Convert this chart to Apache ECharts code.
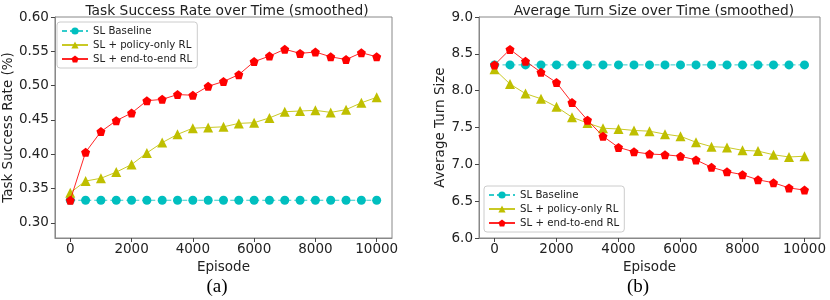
<!DOCTYPE html>
<html><head><meta charset="utf-8">
<script src="https://cdn.jsdelivr.net/npm/echarts@6/dist/echarts.min.js"></script>
<style>html,body{margin:0;padding:0;background:#fff}#c{width:830px;height:300px}</style>
</head><body><div id="c"></div>
<script>
const episodes = [0,500,1000,1500,2000,2500,3000,3500,4000,4500,5000,5500,6000,6500,7000,7500,8000,8500,9000,9500,10000];
const seriesNames = ['SL Baseline','SL + policy-only RL','SL + end-to-end RL'];
// (a) Task success rate
const successBaseline = [0.333,0.333,0.333,0.333,0.333,0.333,0.333,0.333,0.333,0.333,0.333,0.333,0.333,0.333,0.333,0.333,0.333,0.333,0.333,0.333,0.333];
const successPolicy = [0.344,0.361,0.365,0.374,0.385,0.402,0.417,0.429,0.438,0.439,0.440,0.445,0.446,0.453,0.462,0.463,0.464,0.461,0.465,0.475,0.483];
const successE2E = [0.333,0.403,0.433,0.449,0.460,0.478,0.480,0.487,0.486,0.499,0.506,0.516,0.535,0.543,0.553,0.547,0.549,0.542,0.538,0.548,0.542];
// (b) Average turn size
const turnBaseline = [8.35,8.35,8.35,8.35,8.35,8.35,8.35,8.35,8.35,8.35,8.35,8.35,8.35,8.35,8.35,8.35,8.35,8.35,8.35,8.35,8.35];
const turnPolicy = [8.29,8.09,7.96,7.89,7.78,7.64,7.56,7.49,7.48,7.46,7.45,7.41,7.38,7.30,7.24,7.23,7.19,7.18,7.13,7.10,7.11];
const turnE2E = [8.35,8.56,8.40,8.25,8.11,7.84,7.60,7.38,7.23,7.17,7.14,7.13,7.11,7.06,6.96,6.90,6.86,6.79,6.75,6.68,6.65];
const xTicks = [0,2000,4000,6000,8000,10000];
const yTicksA = [0.30,0.35,0.40,0.45,0.50,0.55,0.60];

const pentagon = 'path://M0,-1 L0.951,-0.309 L0.588,0.809 L-0.588,0.809 L-0.951,-0.309 Z';
const colors = ['#00BFBF','#BFBF00','#FF0000'];
const symbols = ['circle','triangle',pentagon];
const FONT = 'DejaVu Sans';
const TXT = '#222';

function zip(xs, ys){ return xs.map((x,i)=>[x, ys[i]]); }

function mkSeries(idx, data, k){
  return {
    name: seriesNames[k], type:'line', xAxisIndex: idx, yAxisIndex: idx,
    data: zip(episodes, data), symbol: symbols[k], symbolSize: k===1?10:9,
    showSymbol:true, animation:false,
    itemStyle:{color: colors[k]},
    lineStyle:{color: colors[k], width:1, type: k===0?[5,3]:'solid', opacity: k===0?0.8:0.85},
    z: 2+k
  };
}

function xAx(idx){
  return {
    type:'value', gridIndex: idx, min:-500, max:10500,
    name:'Episode', nameLocation:'middle', nameGap:17,
    nameTextStyle:{fontFamily:FONT, fontSize:13.5, color:TXT},
    axisLine:{show:true, onZero:false, lineStyle:{color:'#888'}},
    axisTick:{show:true, length:4, inside:false, customValues:xTicks, lineStyle:{color:'#444'}},
    axisLabel:{show:true, customValues:xTicks, margin:4, fontFamily:FONT, fontSize:13.5, color:TXT,
      formatter:v=>String(v)},
    splitLine:{show:false}
  };
}

function legend(left, top){
  return {data:seriesNames, orient:'vertical', left:left, top:top, itemWidth:26, itemHeight:9, itemGap:4,
     padding:[4,5,4,4], borderColor:'#ccc', borderWidth:1, borderRadius:3, backgroundColor:'rgba(255,255,255,0.85)',
     textStyle:{fontFamily:FONT, fontSize:10.2, color:TXT}};
}

const option = {
  animation:false,
  backgroundColor:'#fff',
  title:[
    {text:'Task Success Rate over Time (smoothed)', left:222, top:-1, textAlign:'center',
     textStyle:{fontFamily:FONT, fontSize:13.8, fontWeight:'normal', color:TXT}},
    {text:'Average Turn Size over Time (smoothed)', left:649, top:-1, textAlign:'center',
     textStyle:{fontFamily:FONT, fontSize:13.8, fontWeight:'normal', color:TXT}}
  ],
  grid:[
    {left:52, top:17, width:340, height:221, show:true, borderColor:'#888', borderWidth:1},
    {left:479, top:17, width:341, height:221, show:true, borderColor:'#888', borderWidth:1}
  ],
  legend:[legend(57, 22), legend(484, 186)],
  xAxis:[xAx(0), xAx(1)],
  yAxis:[
    {type:'value', gridIndex:0, min:0.278, max:0.60,
     name:'Task Success Rate (%)', nameLocation:'middle', nameGap:37,
     nameTextStyle:{fontFamily:FONT, fontSize:13.5, color:TXT},
     axisLine:{show:true, onZero:false, lineStyle:{color:'#888'}},
     axisTick:{show:true, length:4, customValues:yTicksA, lineStyle:{color:'#444'}},
     axisLabel:{show:true, customValues:yTicksA, margin:6, fontFamily:FONT, fontSize:13.5, color:TXT,
       formatter:v=>Number(v).toFixed(2)},
     splitLine:{show:false}},
    {type:'value', gridIndex:1, min:6.0, max:9.0, interval:0.5,
     name:'Average Turn Size', nameLocation:'middle', nameGap:29,
     nameTextStyle:{fontFamily:FONT, fontSize:13.5, color:TXT},
     axisLine:{show:true, onZero:false, lineStyle:{color:'#888'}},
     axisTick:{show:true, length:4, lineStyle:{color:'#444'}},
     axisLabel:{show:true, margin:6, fontFamily:FONT, fontSize:13.5, color:TXT,
       formatter:v=>Number(v).toFixed(1)},
     splitLine:{show:false}}
  ],
  graphic:[
    {type:'text', x:217, y:287, style:{text:'(a)', font:'19px "Liberation Serif"', fill:'#000', align:'center', verticalAlign:'middle'}},
    {type:'text', x:638, y:287, style:{text:'(b)', font:'19px "Liberation Serif"', fill:'#000', align:'center', verticalAlign:'middle'}}
  ],
  series:[
    mkSeries(0, successBaseline, 0), mkSeries(0, successPolicy, 1), mkSeries(0, successE2E, 2),
    mkSeries(1, turnBaseline, 0), mkSeries(1, turnPolicy, 1), mkSeries(1, turnE2E, 2)
  ]
};
const chart = echarts.init(document.getElementById('c'), null, {renderer:'canvas'});
chart.setOption(option);
</script></body></html>
